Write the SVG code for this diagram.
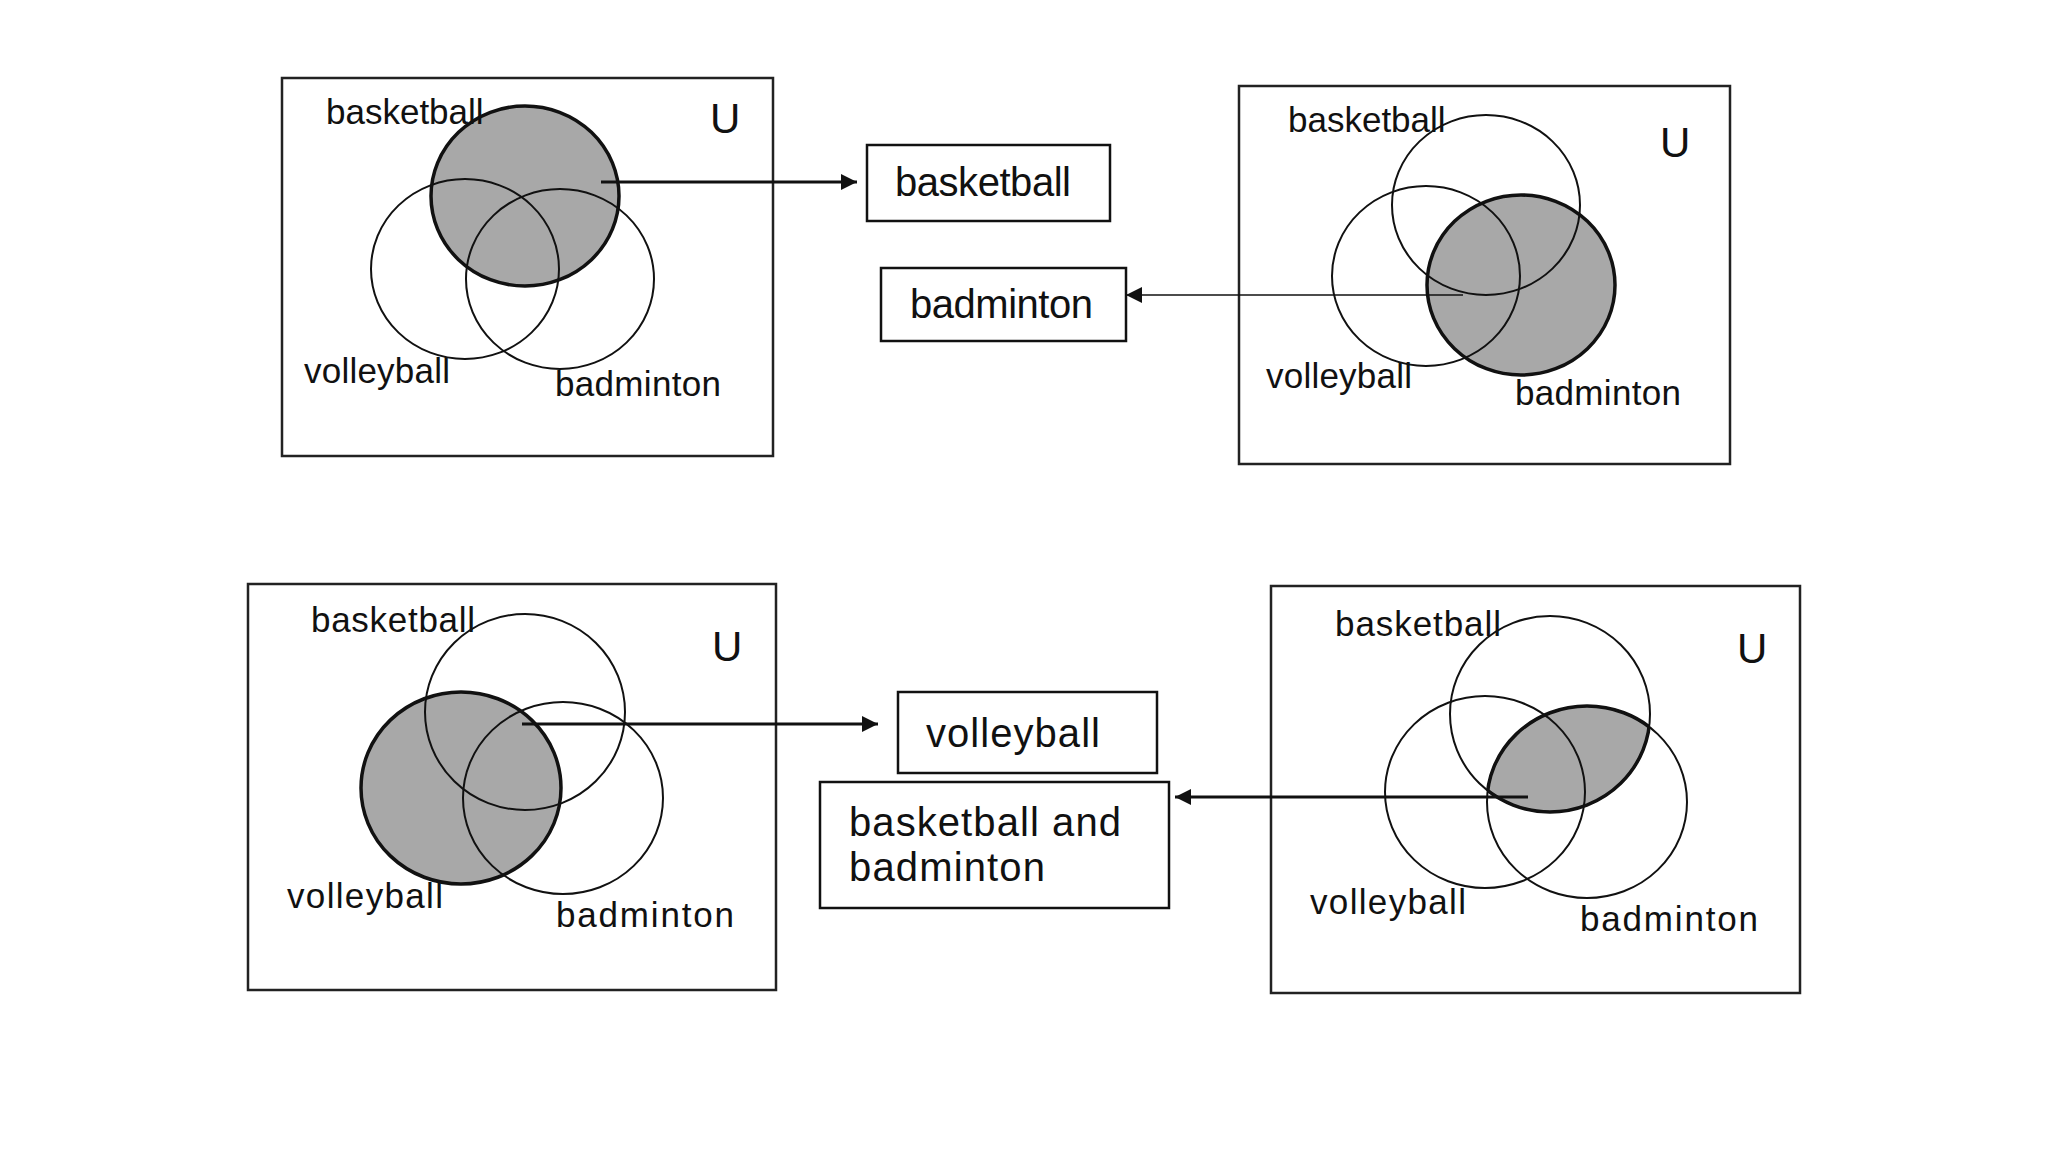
<svg xmlns="http://www.w3.org/2000/svg" width="2048" height="1152" viewBox="0 0 2048 1152">
<style>
.frame{fill:none;stroke:#222;stroke-width:2.5}
.c{fill:none;stroke:#111;stroke-width:2}
.ct{fill:none;stroke:#111;stroke-width:3.5}
.sh{fill:#a8a8a8;stroke:none}
.lbl{font-family:"Liberation Sans",Arial,sans-serif;font-size:35px;fill:#111}
.u{font-family:"Liberation Sans",Arial,sans-serif;font-size:42px;fill:#111}
.box{fill:#fff;stroke:#111;stroke-width:2.5}
.bt{font-family:"Liberation Sans",Arial,sans-serif;font-size:40px;fill:#111}
.ar{fill:none;stroke:#111;stroke-width:3}
.arthin{fill:none;stroke:#111;stroke-width:1.6}
</style>
<defs>
<marker id="ah" markerUnits="userSpaceOnUse" markerWidth="18" markerHeight="18" refX="16" refY="9" orient="auto">
<path d="M0,1 L16,9 L0,17 z" fill="#111"/>
</marker>
<clipPath id="clipBask4"><ellipse cx="1550" cy="714" rx="100" ry="98"/></clipPath>
<clipPath id="clipBad4"><ellipse cx="1587" cy="802" rx="100" ry="96"/></clipPath>
</defs>
<rect width="2048" height="1152" fill="#fff"/>

<g id="panel1">
<rect class="frame" x="282" y="78" width="491" height="378"/>
<ellipse class="sh" cx="525" cy="196" rx="94" ry="90"/>
<ellipse class="c" cx="465" cy="269" rx="94" ry="90"/>
<ellipse class="c" cx="560" cy="279" rx="94" ry="90"/>
<ellipse class="ct" cx="525" cy="196" rx="94" ry="90"/>
<text class="lbl" x="326" y="124">basketball</text>
<text class="u" x="710" y="133">U</text>
<text class="lbl" x="304" y="383" textLength="146">volleyball</text>
<text class="lbl" x="555" y="396" textLength="166">badminton</text>
</g>

<g id="panel2">
<rect class="frame" x="1239" y="86" width="491" height="378"/>
<ellipse class="sh" cx="1521" cy="285" rx="94" ry="90"/>
<ellipse class="c" cx="1486" cy="205" rx="94" ry="90"/>
<ellipse class="c" cx="1426" cy="276" rx="94" ry="90"/>
<ellipse class="ct" cx="1521" cy="285" rx="94" ry="90"/>
<text class="lbl" x="1288" y="132">basketball</text>
<text class="u" x="1660" y="157">U</text>
<text class="lbl" x="1266" y="388" textLength="146">volleyball</text>
<text class="lbl" x="1515" y="405" textLength="166">badminton</text>
</g>

<g id="panel3">
<rect class="frame" x="248" y="584" width="528" height="406"/>
<ellipse class="sh" cx="461" cy="788" rx="100" ry="96"/>
<ellipse class="c" cx="525" cy="712" rx="100" ry="98"/>
<ellipse class="c" cx="563" cy="798" rx="100" ry="96"/>
<ellipse class="ct" cx="461" cy="788" rx="100" ry="96"/>
<text class="lbl" x="311" y="632" textLength="164">basketball</text>
<text class="u" x="712" y="661">U</text>
<text class="lbl" x="287" y="908" textLength="156">volleyball</text>
<text class="lbl" x="556" y="927" textLength="178">badminton</text>
</g>

<g id="panel4">
<rect class="frame" x="1271" y="586" width="529" height="407"/>
<ellipse class="sh" cx="1587" cy="802" rx="100" ry="96" clip-path="url(#clipBask4)"/>
<ellipse class="c" cx="1550" cy="714" rx="100" ry="98"/>
<ellipse class="c" cx="1485" cy="792" rx="100" ry="96"/>
<ellipse class="c" cx="1587" cy="802" rx="100" ry="96"/>
<g clip-path="url(#clipBask4)"><ellipse class="ct" cx="1587" cy="802" rx="100" ry="96"/></g>
<g clip-path="url(#clipBad4)"><ellipse class="ct" cx="1550" cy="714" rx="100" ry="98"/></g>
<text class="lbl" x="1335" y="636" textLength="166">basketball</text>
<text class="u" x="1737" y="663">U</text>
<text class="lbl" x="1310" y="914" textLength="156">volleyball</text>
<text class="lbl" x="1580" y="931" textLength="178">badminton</text>
</g>

<g id="box-basketball">
<rect class="box" x="867" y="145" width="243" height="76"/>
<text class="bt" x="895" y="196" textLength="176">basketball</text>
</g>
<g id="box-badminton">
<rect class="box" x="881" y="268" width="245" height="73"/>
<text class="bt" x="910" y="318" textLength="183">badminton</text>
</g>
<g id="box-volleyball">
<rect class="box" x="898" y="692" width="259" height="81"/>
<text class="bt" x="926" y="747" textLength="174">volleyball</text>
</g>
<g id="box-basketball-badminton">
<rect class="box" x="820" y="782" width="349" height="126"/>
<text class="bt" x="849" y="836" textLength="272">basketball and</text>
<text class="bt" x="849" y="881" textLength="196">badminton</text>
</g>

<g id="connectors">
<line class="ar" x1="601" y1="182" x2="857" y2="182" marker-end="url(#ah)"/>
<line class="arthin" x1="1463" y1="295" x2="1126" y2="295" marker-end="url(#ah)"/>
<line class="ar" x1="522" y1="724" x2="878" y2="724" marker-end="url(#ah)"/>
<line class="ar" x1="1528" y1="797" x2="1175" y2="797" marker-end="url(#ah)"/>
</g>
</svg>
